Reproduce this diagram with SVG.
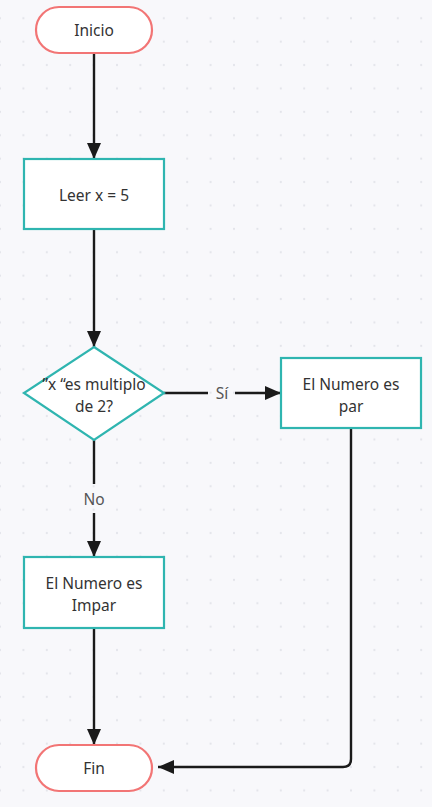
<svg xmlns="http://www.w3.org/2000/svg" width="432" height="807" viewBox="0 0 432 807">
<defs>
<pattern id="dots" x="0" y="18.3" width="23.4" height="23.4" patternUnits="userSpaceOnUse">
<circle cx="0" cy="0" r="1.1" fill="#e3e4ea"/>
<circle cx="23.4" cy="0" r="1.1" fill="#e3e4ea"/>
<circle cx="0" cy="23.4" r="1.1" fill="#e3e4ea"/>
<circle cx="23.4" cy="23.4" r="1.1" fill="#e3e4ea"/>
</pattern>
<marker id="arr" viewBox="0 0 16 14" refX="16" refY="7" markerWidth="16" markerHeight="14" markerUnits="userSpaceOnUse" orient="auto">
<path d="M0,0 L16,7 L0,14 Z" fill="#1a1a1a"/>
</marker>
<style>
.term{fill:#ffffff;stroke:#f27575;stroke-width:2.2}
.proc{fill:#ffffff;stroke:#2fb5b0;stroke-width:2.2}
.t{font-family:"Noto Sans","Open Sans",sans-serif;font-size:15.5px;fill:#333333;text-anchor:middle;dominant-baseline:central}
.lbl{font-family:"Noto Sans","Open Sans",sans-serif;font-size:15.5px;fill:#555555;text-anchor:middle;dominant-baseline:central}
.e{fill:none;stroke:#1a1a1a;stroke-width:2.4}
</style>
</defs>
<rect width="432" height="807" fill="#f8f8fb"/>
<rect width="432" height="807" fill="url(#dots)"/>
<g id="connectors">
<path class="e" d="M94,54 L94,159" marker-end="url(#arr)"/>
<path class="e" d="M94,230 L94,347" marker-end="url(#arr)"/>
<path class="e" d="M164,393 L208,393"/>
<path class="e" d="M235,393 L281,393" marker-end="url(#arr)"/>
<text class="lbl" x="222" y="393">Sí</text>
<path class="e" d="M94,440 L94,484"/>
<path class="e" d="M94,513 L94,557" marker-end="url(#arr)"/>
<text class="lbl" x="94" y="499">No</text>
<path class="e" d="M94,628 L94,745" marker-end="url(#arr)"/>
<path class="e" d="M351,428 L351,759 Q351,767 343,767 L158,767" marker-end="url(#arr)"/>
</g>
<g id="inicio">
<rect class="term" x="36" y="7" width="116" height="46" rx="23"/>
<text class="t" x="94" y="30">Inicio</text>
</g>
<g id="leer">
<rect class="proc" x="24" y="159" width="140" height="70"/>
<text class="t" x="94" y="195">Leer x = 5</text>
</g>
<g id="decision">
<polygon class="proc" points="94,347 164,393 94,440 24,393"/>
<text class="t" x="94" y="384">”x “es multiplo</text>
<text class="t" x="94" y="406">de 2?</text>
</g>
<g id="par">
<rect class="proc" x="281" y="358" width="140" height="70"/>
<text class="t" x="351" y="384">El Numero es</text>
<text class="t" x="351" y="406">par</text>
</g>
<g id="impar">
<rect class="proc" x="24" y="557" width="140" height="71"/>
<text class="t" x="94" y="583">El Numero es</text>
<text class="t" x="94" y="605">Impar</text>
</g>
<g id="fin">
<rect class="term" x="36" y="745" width="116" height="46" rx="23"/>
<text class="t" x="94" y="768">Fin</text>
</g>
</svg>
